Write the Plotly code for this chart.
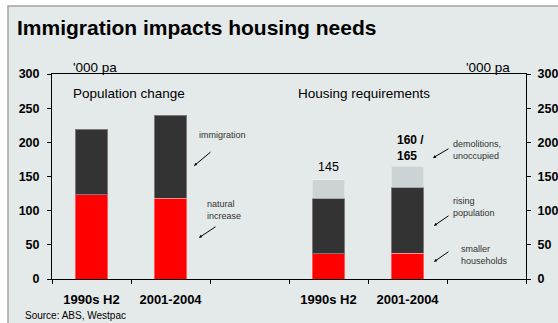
import plotly.graph_objects as go

# Six category slots: two population bars, a gap, two housing bars, a gap
slots = [0, 1, 2, 3, 4, 5]
period_labels = ["1990s H2", "2001-2004", "", "1990s H2", "2001-2004", ""]

# Population change ('000 pa)
pop_x = [0, 1]
natural_increase = [123, 118]
immigration = [96, 122]

# Housing requirements ('000 pa)
house_x = [3, 4]
smaller_households = [37, 38]
rising_population = [81, 96]
demolitions_unoccupied = [27, 31]

y_ticks = [0, 50, 100, 150, 200, 250, 300]

RED = "#ff0000"
DARK = "#333333"
LIGHT = "#cbd3d5"
BG = "#e4e9e9"
FONT = "Liberation Sans, Arial, sans-serif"

fig = go.Figure()
bar_w = 0.41
seg_line = dict(color="rgba(255,255,255,0.35)", width=1)

fig.add_bar(x=pop_x, y=natural_increase, marker=dict(color=RED, line=seg_line), width=bar_w)
fig.add_bar(x=pop_x, y=immigration, marker=dict(color=DARK, line=seg_line), width=bar_w)
fig.add_bar(x=house_x, y=smaller_households, marker=dict(color=RED, line=seg_line), width=bar_w)
fig.add_bar(x=house_x, y=rising_population, marker=dict(color=DARK, line=seg_line), width=bar_w)
fig.add_bar(x=house_x, y=demolitions_unoccupied, marker=dict(color=LIGHT, line=seg_line), width=bar_w)
# invisible trace so the right-hand axis is drawn
fig.add_scatter(x=[0], y=[0], yaxis="y2", xaxis="x2", mode="markers",
                marker=dict(opacity=0), hoverinfo="skip")

tick_font = dict(family=FONT, size=12.5, color="#000000", weight="bold")

fig.update_layout(
    width=558, height=323,
    margin=dict(l=52, r=32, t=74, b=44, autoexpand=False),
    barmode="stack",
    showlegend=False,
    paper_bgcolor="white",
    plot_bgcolor="rgba(0,0,0,0)",
    font=dict(family=FONT, color="#000000"),
    xaxis=dict(
        range=[-0.5, 5.5], tickmode="array", tickvals=slots, ticktext=period_labels,
        ticks="", showgrid=False, zeroline=False, automargin=False,
        showline=True, linecolor="#000000", linewidth=1, mirror=True,
        tickfont=dict(family=FONT, size=13, color="#000000", weight="bold"),
        ticklabelstandoff=8,
    ),
    xaxis2=dict(
        overlaying="x", anchor="y", side="bottom", range=[-0.5, 5.5], automargin=False,
        tickmode="array", tickvals=[-0.5, 0.5, 1.5, 2.5, 3.5, 4.5, 5.5],
        showticklabels=False, ticks="outside", ticklen=4, tickcolor="#000000",
        showgrid=False, zeroline=False, showline=False,
    ),
    yaxis=dict(
        range=[0, 300], tickmode="array", tickvals=y_ticks, automargin=False,
        ticks="outside", ticklen=4, tickcolor="#000000",
        showgrid=False, zeroline=False, showline=True, linecolor="#000000", linewidth=1,
        tickfont=tick_font, ticklabelstandoff=5,
    ),
    yaxis2=dict(
        overlaying="y", side="right", anchor="x", range=[0, 300], tickmode="array",
        tickvals=y_ticks, ticks="outside", ticklen=4, tickcolor="#000000", automargin=False,
        showgrid=False, zeroline=False, showline=True, linecolor="#000000", linewidth=1,
        tickfont=tick_font, ticklabelstandoff=4,
    ),
)

# Grey panel with a thin border behind the whole chart
fig.add_shape(type="rect", xref="paper", yref="paper",
              x0=-0.0928, x1=1.08, y0=-0.3, y1=1.332,
              fillcolor=BG, line=dict(color="#a3a3a3", width=1.5), layer="below")


def px_x(p):
    return (p - 52) / 474


def px_y(p):
    return (279.3 - p) / 205.3


def note(text, x, y, size=9, bold=False, xanchor="left", color="#333333"):
    fig.add_annotation(
        text=text, x=px_x(x), y=px_y(y), xref="paper", yref="paper", showarrow=False,
        xanchor=xanchor, yanchor="middle", align="left",
        font=dict(family=FONT, size=size, color=color, weight="bold" if bold else "normal"),
    )


# Title and headers
note("Immigration impacts housing needs", 15, 27, size=21, bold=True, color="#000000")
note("'000 pa", 71, 67, size=13.5, color="#000000")
note("'000 pa", 464, 67, size=13.5, color="#000000")
note("Population change", 71, 94, size=13.5, color="#000000")
note("Housing requirements", 296, 94, size=13.5, color="#000000")
note("Source: ABS, Westpac", 23, 316, size=10, color="#000000")

# Totals above the housing bars
total_1990s = smaller_households[0] + rising_population[0] + demolitions_unoccupied[0]
total_2001 = smaller_households[1] + rising_population[1] + demolitions_unoccupied[1]
fig.add_annotation(text=str(total_1990s), x=house_x[0], y=total_1990s,
                   yshift=4, showarrow=False, yanchor="bottom",
                   font=dict(family=FONT, size=12.5, color="#000000"))
fig.add_annotation(text="160 /<br>" + str(total_2001), x=house_x[1], y=total_2001,
                   yshift=1, xshift=3, showarrow=False, align="left", yanchor="bottom",
                   font=dict(family=FONT, size=12, color="#000000", weight="bold"))

# Series labels
note("immigration", 197, 135)
note("natural<br>increase", 205, 210)
note("demolitions,<br>unoccupied", 451, 150)
note("rising<br>population", 451, 207)
note("smaller<br>households", 459, 255)

# Small pointer arrows next to the labels
arrows = [((212, 151), (194, 166)), ((217, 226), (199, 238)),
          ((450, 148), (433, 158)), ((450, 215), (434, 226)), ((450, 251), (434, 262))]
for (sx, sy), (ex, ey) in arrows:
    fig.add_annotation(x=px_x(ex), y=px_y(ey), ax=sx - ex, ay=sy - ey,
                       xref="paper", yref="paper", axref="pixel", ayref="pixel",
                       text="", showarrow=True, arrowhead=2, arrowsize=0.6,
                       arrowwidth=1, arrowcolor="#000000")

fig.write_html("out.html")
